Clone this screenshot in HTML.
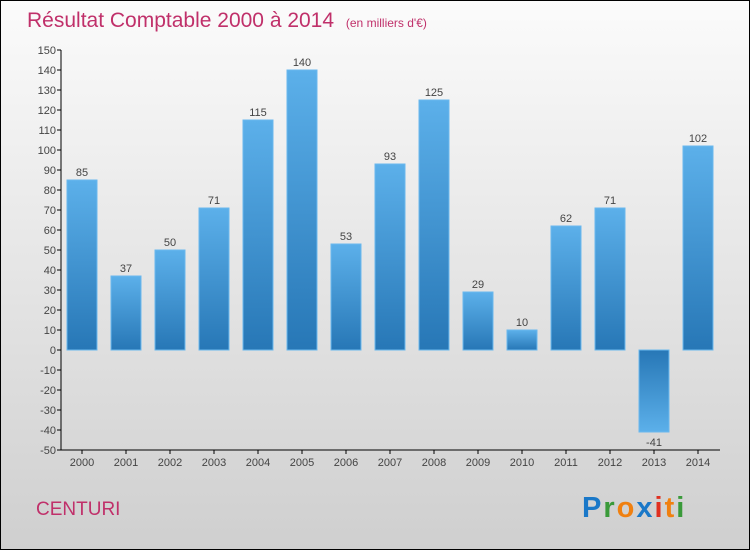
<!DOCTYPE html>
<html><head><meta charset="utf-8"><style>
body{margin:0;width:750px;height:550px;overflow:hidden}
svg{display:block;font-family:"Liberation Sans",sans-serif}
</style></head><body>
<svg id="chart" width="750" height="550">
<defs>
<linearGradient id="bg" x1="0" y1="0" x2="0" y2="1"><stop offset="0" stop-color="#fbfbfb"/><stop offset="1" stop-color="#cfcfcf"/></linearGradient>
<linearGradient id="gp" x1="0" y1="0" x2="0" y2="1"><stop offset="0" stop-color="#5cb0ea"/><stop offset="1" stop-color="#2777b6"/></linearGradient>
<linearGradient id="gn" x1="0" y1="0" x2="0" y2="1"><stop offset="0" stop-color="#2777b6"/><stop offset="1" stop-color="#5cb0ea"/></linearGradient>
</defs>
<rect x="0.5" y="0.5" width="749" height="549" fill="url(#bg)" stroke="#000"/>
<text x="27" y="27" font-size="21" fill="#c0306a">Résultat Comptable 2000 à 2014 <tspan font-size="12" dx="6">(en milliers d'€)</tspan></text>
<g id="yaxis"></g><g id="bars"></g><g id="xaxis"></g>
<text x="36" y="515" font-size="19" fill="#c0306a">CENTURI</text>
<text x="582" y="517" font-size="29" font-weight="bold" letter-spacing="2"><tspan fill="#1a78c8">P</tspan><tspan fill="#3a9a3a">r</tspan><tspan fill="#f08010">o</tspan><tspan fill="#1a78c8">x</tspan><tspan fill="#e03020">i</tspan><tspan fill="#f08010">t</tspan><tspan fill="#3a9a3a">i</tspan></text>
</svg>
<script>
const years=["2000","2001","2002","2003","2004","2005","2006","2007","2008","2009","2010","2011","2012","2013","2014"];
const values=[85,37,50,71,115,140,53,93,125,29,10,62,71,-41,102];
const yTicks=[150,140,130,120,110,100,90,80,70,60,50,40,30,20,10,0,-10,-20,-30,-40,-50];
const NS="http://www.w3.org/2000/svg";
const y=v=>350-v*2, x=i=>82+i*44;
function mk(t,a,p){const e=document.createElementNS(NS,t);for(const k in a)e.setAttribute(k,a[k]);p.appendChild(e);return e;}
const ya=document.getElementById('yaxis'),ba=document.getElementById('bars'),xa=document.getElementById('xaxis');
let l=mk('line',{x1:61,y1:50,x2:61,y2:450,stroke:'#000'},ya);


yTicks.forEach(v=>{
 mk('line',{x1:57,x2:61,y1:y(v),y2:y(v),stroke:'#000'},ya);
 const t=mk('text',{x:56,y:y(v)+4,'text-anchor':'end','font-size':11,fill:'#444'},ya);t.textContent=v;
 
 
});
l=mk('line',{x1:61,y1:450,x2:720,y2:450,stroke:'#000'},xa);


years.forEach((yr,i)=>{
 const v=values[i];
 const r=mk('rect',{x:x(i)-15,y:Math.min(y(v),y(0)),width:30,height:Math.abs(v)*2,fill:v>=0?'url(#gp)':'url(#gn)',stroke:'#6ab8ee','stroke-width':1},ba);
 
 
 const t=mk('text',{x:x(i),y:v>=0?y(v)-4:y(v)+14,'text-anchor':'middle','font-size':11,fill:'#444'},ba);t.textContent=v;
 
 
 mk('line',{x1:x(i),x2:x(i),y1:450,y2:454,stroke:'#000'},xa);
 const xt=mk('text',{x:x(i),y:466,'text-anchor':'middle','font-size':11,fill:'#444'},xa);xt.textContent=yr;
 
 
});
</script>
</body></html>
